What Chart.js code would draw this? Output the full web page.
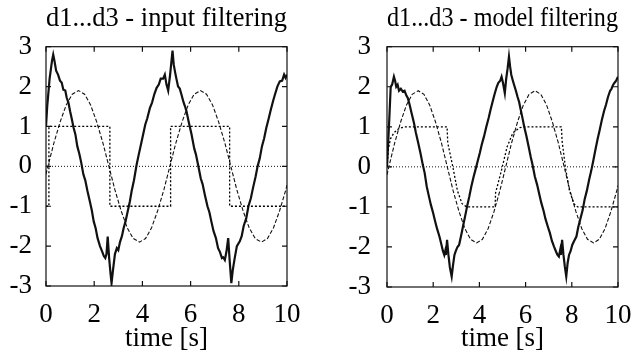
<!DOCTYPE html>
<html>
<head>
<meta charset="utf-8">
<script src="https://cdn.jsdelivr.net/npm/chart.js@4.4.0/dist/chart.umd.min.js"></script>
<style>
  body { margin: 0; background: #fff; }
  .panel { position: absolute; top: 0; width: 322px; height: 363px; }
</style>
</head>
<body>
<div class="panel" style="left:0"><canvas id="leftChart" width="322" height="363"></canvas></div>
<div class="panel" style="left:322px"><canvas id="rightChart" width="322" height="363"></canvas></div>
<script>
// time axis ticks
const xTicks = [0, 2, 4, 6, 8, 10];
const yTicks = [-3, -2, -1, 0, 1, 2, 3];

// reference sine (dashed), same in both panels
const sineT = [0, 0.08, 0.33, 0.59, 0.84, 1.09, 1.35, 1.6, 1.85, 2.1, 2.36, 2.61, 2.86, 3.12, 3.37, 3.62, 3.88, 4.13, 4.38, 4.63, 4.89,
  5.14, 5.39, 5.65, 5.9, 6.15, 6.41, 6.66, 6.91, 7.16, 7.42, 7.67, 7.92, 8.18, 8.43, 8.68, 8.94, 9.19, 9.44, 9.69, 9.95, 10];
const sineV = [-0.2, 0, 0.59, 1.12, 1.54, 1.81, 1.9, 1.81, 1.54, 1.12, 0.59, 0, -0.59, -1.12, -1.54, -1.81, -1.9, -1.81, -1.54, -1.12, -0.59,
  0, 0.59, 1.12, 1.54, 1.81, 1.9, 1.81, 1.54, 1.12, 0.59, 0, -0.59, -1.12, -1.54, -1.81, -1.9, -1.81, -1.54, -1.12, -0.59, -0.47];

// zero line (fine dots)
const zeroT = [0, 10];
const zeroV = [0, 0];

// left panel: input filtering
const inSquareT = [0, 0.12, 0.12, 2.65, 2.65, 5.17, 5.17, 7.62, 7.62, 10];
const inSquareV = [-1, -1, 1, 1, -1, -1, 1, 1, -1, -1];

const inOutT = [0, 0.05, 0.15, 0.25, 0.3, 0.35, 0.42, 0.5, 0.58, 0.65, 0.72, 0.8, 0.86, 0.93, 1.0, 1.06, 1.14, 1.22, 1.3, 1.38,
  1.46, 1.55, 1.63, 1.72, 1.82, 1.9, 1.98, 2.06, 2.14, 2.24, 2.32, 2.4, 2.46, 2.51, 2.56, 2.62, 2.68, 2.72, 2.78, 2.86,
  2.94, 3.0, 3.07, 3.15, 3.22, 3.3, 3.4, 3.48, 3.55, 3.65, 3.76, 3.85, 3.94, 4.03, 4.12, 4.2, 4.31, 4.4, 4.5, 4.59,
  4.68, 4.76, 4.86, 4.93, 5.0, 5.07, 5.15, 5.2, 5.25, 5.3, 5.36, 5.41, 5.48, 5.55, 5.62, 5.7, 5.77, 5.83, 5.92, 6.04,
  6.15, 6.22, 6.31, 6.42, 6.5, 6.59, 6.7, 6.78, 6.86, 6.95, 7.05, 7.14, 7.22, 7.3, 7.35, 7.42, 7.49, 7.56, 7.62, 7.69,
  7.75, 7.83, 7.92, 8.04, 8.12, 8.2, 8.31, 8.4, 8.5, 8.59, 8.7, 8.78, 8.87, 8.96, 9.05, 9.14, 9.24, 9.32, 9.42, 9.5,
  9.6, 9.7, 9.8, 9.88, 9.94, 10];
const inOutV = [1.0, 1.5, 2.2, 2.65, 2.8, 2.65, 2.4, 2.3, 2.15, 2.1, 1.92, 1.9, 1.72, 1.6, 1.38, 1.22, 0.98, 0.8, 0.5, 0.32,
  0.1, -0.2, -0.35, -0.62, -0.88, -1.1, -1.38, -1.55, -1.8, -2.0, -2.12, -2.25, -2.3, -2.2, -1.76, -2.3, -2.7, -2.93, -2.6, -2.2,
  -2.05, -2.1, -1.9, -1.75, -1.55, -1.38, -1.1, -0.88, -0.63, -0.35, 0.04, 0.3, 0.55, 0.8, 1.05, 1.2, 1.46, 1.6, 1.82, 1.97,
  2.05, 2.2, 2.2, 2.3, 2.05, 1.9, 2.3, 2.6, 2.9, 2.55, 2.35, 2.2, 2.0, 1.95, 1.8, 1.62, 1.5, 1.38, 1.12, 0.8,
  0.45, 0.3, 0.04, -0.3, -0.45, -0.71, -1.0, -1.15, -1.38, -1.62, -1.8, -2.05, -2.15, -2.3, -2.28, -2.35, -2.13, -1.8, -2.35, -2.93,
  -2.6, -2.3, -2.0, -1.88, -1.75, -1.5, -1.3, -1.0, -0.8, -0.54, -0.25, 0.0, 0.2, 0.5, 0.7, 0.96, 1.2, 1.4, 1.63, 1.8,
  2.0, 2.13, 2.15, 2.3, 2.22, 2.3];

// right panel: model filtering
const mdSquareT = [0, 0.06, 0.15, 0.3, 0.5, 0.75, 2.6, 2.63, 2.85, 3.05, 3.25, 3.45, 4.68, 4.7, 4.95, 5.2, 5.45, 5.75, 5.95,
  7.55, 7.58, 7.72, 7.9, 8.1, 8.25, 10];
const mdSquareV = [0, 0.45, 0.7, 0.85, 0.95, 1, 1, 0.6, 0, -0.6, -0.92, -1, -1, -0.65, -0.1, 0.5, 0.85, 0.98, 1,
  1, 0.65, 0, -0.6, -0.93, -1, -1];

const mdOutT = [0, 0.1, 0.16, 0.22, 0.3, 0.35, 0.4, 0.46, 0.52, 0.6, 0.68, 0.76, 0.84, 0.9, 0.98, 1.06, 1.17, 1.25, 1.35, 1.45,
  1.55, 1.63, 1.72, 1.8, 1.9, 2.0, 2.08, 2.17, 2.27, 2.36, 2.42, 2.48, 2.52, 2.55, 2.6, 2.66, 2.72, 2.8, 2.86, 2.92,
  2.98, 3.05, 3.12, 3.17, 3.25, 3.32, 3.4, 3.48, 3.56, 3.65, 3.75, 3.84, 3.93, 4.02, 4.1, 4.2, 4.3, 4.4, 4.48, 4.56,
  4.65, 4.75, 4.82, 4.9, 4.96, 5.02, 5.1, 5.16, 5.22, 5.28, 5.33, 5.38, 5.44, 5.5, 5.58, 5.65, 5.72, 5.78, 5.85, 5.94,
  6.03, 6.13, 6.22, 6.3, 6.4, 6.5, 6.6, 6.68, 6.78, 6.86, 6.96, 7.05, 7.14, 7.23, 7.32, 7.38, 7.44, 7.5, 7.53, 7.58,
  7.64, 7.7, 7.76, 7.82, 7.88, 7.95, 8.02, 8.1, 8.2, 8.28, 8.37, 8.47, 8.56, 8.65, 8.75, 8.84, 8.93, 9.02, 9.12, 9.2,
  9.3, 9.4, 9.48, 9.57, 9.66, 9.72, 9.78, 9.85, 9.92, 10];
const mdOutV = [0, 1.2, 2.0, 2.05, 2.25, 2.15, 2.0, 2.05, 1.9, 1.95, 1.88, 1.9, 1.78, 1.72, 1.55, 1.35, 1.09, 0.85, 0.6, 0.34,
  0.05, -0.15, -0.49, -0.7, -0.95, -1.16, -1.35, -1.55, -1.74, -1.95, -2.1, -2.2, -2.1, -2.2, -1.82, -2.2, -2.5, -2.74, -2.45, -2.2,
  -2.1, -2.0, -1.95, -1.82, -1.6, -1.4, -1.18, -0.95, -0.75, -0.49, -0.25, -0.05, 0.15, 0.35, 0.55, 0.76, 1.0, 1.22, 1.42, 1.6,
  1.8, 2.0, 2.1, 2.15, 2.25, 2.1, 1.84, 2.2, 2.45, 2.75, 2.5, 2.3, 2.17, 2.05, 1.9, 1.75, 1.62, 1.45, 1.26, 1.0,
  0.78, 0.51, 0.25, 0.05, -0.24, -0.45, -0.7, -0.9, -1.1, -1.3, -1.49, -1.65, -1.85, -1.99, -2.12, -2.2, -2.24, -2.07, -2.2, -1.82,
  -2.2, -2.5, -2.74, -2.4, -2.2, -2.1, -1.95, -1.85, -1.74, -1.5, -1.3, -1.08, -0.8, -0.6, -0.32, -0.1, 0.15, 0.42, 0.7, 0.9,
  1.17, 1.4, 1.55, 1.75, 1.9, 1.95, 2.04, 2.1, 2.15, 2.25];

const serif = "'Liberation Serif', 'Times New Roman', serif";
const ink = '#111';
const fontSize = 27;

function pts(ts, vs) {
  return ts.map((t, i) => ({ x: t, y: vs[i] }));
}

// box round the plot with short inward tick marks on all four sides
const framePlugin = {
  id: 'frame',
  afterDatasetsDraw(chart) {
    const { ctx, chartArea: a, scales } = chart;
    const tick = 5;
    ctx.save();
    ctx.strokeStyle = ink;
    ctx.lineWidth = 1.2;
    ctx.strokeRect(a.left, a.top, a.right - a.left, a.bottom - a.top);
    ctx.beginPath();
    xTicks.forEach(v => {
      const p = scales.x.getPixelForValue(v);
      ctx.moveTo(p, a.bottom); ctx.lineTo(p, a.bottom - tick);
      ctx.moveTo(p, a.top); ctx.lineTo(p, a.top + tick);
    });
    yTicks.forEach(v => {
      const p = scales.y.getPixelForValue(v);
      ctx.moveTo(a.left, p); ctx.lineTo(a.left + tick, p);
      ctx.moveTo(a.right, p); ctx.lineTo(a.right - tick, p);
    });
    ctx.stroke();
    ctx.restore();
  }
};

function makePanel(canvasId, title, squareT, squareV, outT, outV, layout) {
  const ctx = document.getElementById(canvasId).getContext('2d');
  return new Chart(ctx, {
    type: 'line',
    data: {
      datasets: [
        { data: pts(zeroT, zeroV), borderColor: ink, borderWidth: 1, borderDash: [1, 2] },
        { data: pts(squareT, squareV), borderColor: '#000', borderWidth: 1.3, borderDash: [2, 2] },
        { data: pts(sineT, sineV), borderColor: ink, borderWidth: 1.1, borderDash: [4, 2] },
        { data: pts(outT, outV), borderColor: ink, borderWidth: 2.2 }
      ]
    },
    options: {
      responsive: false,
      animation: false,
      events: [],
      layout: { padding: { left: 0, right: layout.right, top: 0, bottom: 0 } },
      elements: { point: { radius: 0 }, line: { tension: 0 } },
      plugins: {
        legend: { display: false },
        tooltip: { enabled: false },
        title: {
          display: true,
          text: title,
          fullSize: false,
          color: '#000',
          font: { family: serif, size: 28, weight: 'normal' },
          padding: { top: 1.6, bottom: 11.5 }
        }
      },
      scales: {
        x: {
          type: 'linear',
          min: 0,
          max: 10,
          grid: { display: false, drawTicks: false },
          border: { display: false },
          ticks: {
            stepSize: 2,
            padding: 12.5,
            maxRotation: 0,
            color: '#000',
            font: { family: serif, size: fontSize }
          },
          title: {
            display: true,
            text: 'time [s]',
            color: '#000',
            font: { family: serif, size: fontSize },
            padding: { top: 0, bottom: 7.5 }
          },
          afterFit(scale) { scale.height = 363 - layout.bottom; }
        },
        y: {
          min: -3,
          max: 3,
          grid: { display: false, drawTicks: false },
          border: { display: false },
          ticks: {
            stepSize: 1,
            padding: layout.labelGap,
            color: '#000',
            font: { family: serif, size: fontSize }
          },
          afterFit(scale) { scale.width = layout.left; }
        }
      }
    },
    plugins: [framePlugin]
  });
}

makePanel('leftChart', 'd1...d3 - input filtering', inSquareT, inSquareV, inOutT, inOutV,
  { left: 46, right: 35, bottom: 286, labelGap: 14 });
makePanel('rightChart', 'd1...d3 - model filtering', mdSquareT, mdSquareV, mdOutT, mdOutV,
  { left: 65, right: 15, bottom: 287, labelGap: 16 });
</script>
</body>
</html>
